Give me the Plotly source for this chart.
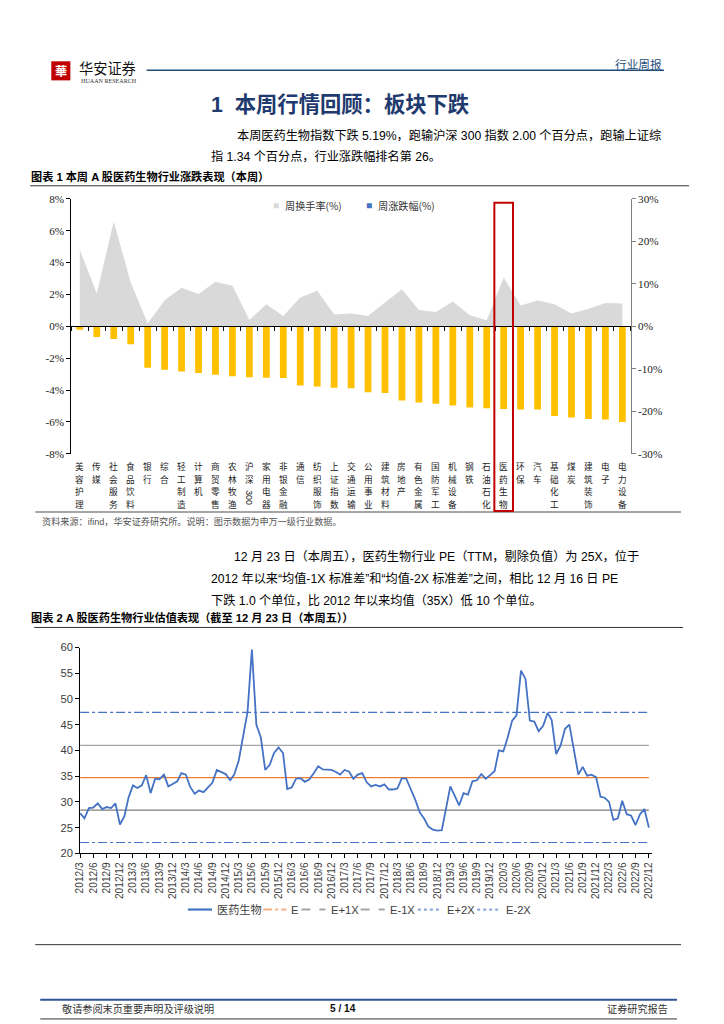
import plotly.graph_objects as go
import pandas as pd

# Layout coordinates below are given in target-image pixels; they are mapped to
# figure paper coordinates (the page is photographed with an 8px margin, scaled 1024/1040).
BODY_M = 8
S = 1024 / 1040
W, H = 724, 1032
def px(x): return (((x - 8) / S) - BODY_M) / W
def py(y): return 1 - (((y - 8) / S) - BODY_M) / H
def fs(size): return size / S

CJK = "Noto Sans CJK SC"
SANS = "Liberation Sans, Noto Sans CJK SC"
SERIF = "Liberation Serif, Noto Sans CJK SC"

# ---------------- Chart 1 data ----------------
categories = ["美容护理", "传媒", "社会服务", "食品饮料", "银行", "综合", "轻工制造", "计算机",
              "商贸零售", "农林牧渔", "沪深300", "家用电器", "非银金融", "通信", "纺织服饰", "上证指数",
              "交通运输", "公用事业", "建筑材料", "房地产", "有色金属", "国防军工", "机械设备", "钢铁",
              "石油石化", "医药生物", "环保", "汽车", "基础化工", "煤炭", "建筑装饰", "电子", "电力设备"]
weekly_change = [-0.21, -0.67, -0.79, -1.12, -2.60, -2.72, -2.83, -2.93, -3.04, -3.14, -3.19,
                 -3.22, -3.24, -3.72, -3.78, -3.85, -3.89, -4.14, -4.18, -4.66, -4.78, -4.86,
                 -4.97, -5.09, -5.14, -5.19, -5.22, -5.22, -5.63, -5.72, -5.82, -5.84, -6.01]
turnover = [4.79, 2.06, 6.58, 2.75, 0.17, 1.64, 2.42, 2.02, 2.79, 2.54, 0.40,
            1.39, 0.65, 1.81, 2.23, 0.74, 0.80, 0.65, 1.49, 2.33, 1.03, 0.90,
            1.55, 0.69, 0.38, 3.07, 1.30, 1.62, 1.39, 0.80, 1.11, 1.47, 1.43]
left_ticks = [8, 6, 4, 2, 0, -2, -4, -6, -8]
right_ticks = [30, 20, 10, 0, -10, -20, -30]
highlight = "医药生物"

# ---------------- Chart 2 data ----------------
pe_values = [
    27.8, 26.8, 28.8, 28.9, 29.7, 28.6, 29.0, 28.8, 29.7, 25.6,
    27.2, 30.8, 33.2, 32.7, 33.2, 35.2, 31.7, 34.5, 34.4, 35.3,
    33.0, 33.5, 34.0, 35.6, 35.3, 32.9, 31.6, 32.2, 31.9, 32.8,
    33.7, 36.2, 35.8, 35.4, 34.2, 35.3, 38.0, 43.0, 47.5, 59.6,
    45.0, 42.5, 36.2, 37.2, 39.5, 40.6, 39.5, 32.5, 32.8, 34.5,
    34.6, 33.9, 34.4, 35.6, 36.9, 36.3, 36.3, 36.2, 35.8, 35.3,
    36.2, 35.9, 34.5, 35.3, 35.6, 33.8, 33.0, 33.3, 33.0, 33.4,
    32.4, 32.4, 32.6, 34.6, 34.5, 32.5, 30.5, 28.0, 26.8, 25.2,
    24.6, 24.4, 24.5, 28.5, 33.0, 31.2, 29.3, 31.7, 31.4, 34.0,
    34.2, 35.4, 34.5, 35.2, 36.0, 40.0, 39.8, 42.5, 45.8, 46.8,
    55.5, 53.9, 45.8, 45.6, 43.7, 44.8, 47.3, 45.9, 39.3, 40.9,
    44.2, 45.0, 40.0, 35.3, 36.8, 35.1, 35.3, 34.8, 31.0, 30.8,
    30.0, 26.5, 26.8, 30.2, 27.6, 27.3, 25.5, 27.6, 28.6, 25.0,
]
pe_dates = pd.date_range("2012-03-31", periods=len(pe_values), freq="ME")
E_mean, E_p1, E_m1, E_p2, E_m2 = 34.7, 41.0, 28.4, 47.4, 22.1
q_dates = pe_dates[::3]
q_labels = [f"{d.year}/{d.month}" for d in q_dates]

fig = go.Figure()

# ---- chart 1 traces ----
fig.add_trace(go.Scatter(x=categories, y=turnover, mode="lines", fill="tozeroy",
                         line=dict(width=0, color="#D9D9D9"), fillcolor="#D9D9D9",
                         xaxis="x", yaxis="y", showlegend=False, hoverinfo="skip"))
fig.add_trace(go.Bar(x=categories, y=weekly_change, marker=dict(color="#FFC000", line=dict(width=0)),
                     width=0.4, xaxis="x", yaxis="y", showlegend=False))
fig.add_trace(go.Scatter(x=[None], y=[None], xaxis="x3", yaxis="y", showlegend=False, hoverinfo="skip"))
fig.add_trace(go.Scatter(x=[None], y=[None], xaxis="x", yaxis="y2", showlegend=False, hoverinfo="skip"))

# ---- chart 2 traces ----
n = len(pe_values)
lines = [
    ("E+2X", [E_p2] * n, "#4472C4", "dashdot", 1.2),
    ("E-2X", [E_m2] * n, "#4472C4", "dashdot", 1.2),
    ("E+1X", [E_p1] * n, "#A5A5A5", "solid", 1.3),
    ("E-1X", [E_m1] * n, "#7F7F7F", "solid", 1.3),
    ("E", [E_mean] * n, "#ED7D31", "solid", 1.3),
]
for name, vals, col, dash, w in lines:
    fig.add_trace(go.Scatter(x=pe_dates, y=vals, mode="lines", name=name,
                             line=dict(color=col, dash=dash, width=w),
                             xaxis="x2", yaxis="y3", showlegend=False))
fig.add_trace(go.Scatter(x=pe_dates, y=pe_values, mode="lines", name="医药生物",
                         line=dict(color="#4472C4", width=1.8),
                         xaxis="x2", yaxis="y3", showlegend=False))

# ---- axes ----
c1_x0, c1_x1 = 73, 630
c1_top, c1_bot = 200, 454
fig.update_layout(
    xaxis=dict(domain=[px(c1_x0), px(c1_x1)], anchor="y", type="category",
               range=[-0.5, len(categories) - 0.5], categoryorder="array", categoryarray=categories,
               showticklabels=False, ticks="", showline=False, showgrid=False),
    xaxis3=dict(domain=[px(c1_x0), px(c1_x1)], overlaying="x", anchor="free",
                position=(py(c1_bot) + py(c1_top)) / 2, type="linear",
                range=[-0.5, len(categories) - 0.5],
                tickmode="array", tickvals=[k + 0.5 for k in range(-1, len(categories))],
                showticklabels=False, ticks="outside", ticklen=4, tickcolor="#000",
                showline=True, linecolor="#000", linewidth=1, showgrid=False, zeroline=False),
    yaxis=dict(domain=[py(c1_bot), py(c1_top)], anchor="x", range=[-8, 8],
               tickmode="array", tickvals=left_ticks, ticktext=[f"{v}%" for v in left_ticks],
               ticks="outside", ticklen=4, tickcolor="#000", showline=True, linecolor="#000",
               linewidth=1.2, showgrid=False, zeroline=False,
               tickfont=dict(family=SERIF, size=fs(11), color="#222")),
    yaxis2=dict(overlaying="y", side="right", anchor="x", range=[-30, 30],
                tickmode="array", tickvals=right_ticks, ticktext=[f"{v}%" for v in right_ticks],
                ticks="outside", ticklen=4, tickcolor="#808080", showline=True,
                linecolor="#808080", linewidth=1, showgrid=False, zeroline=False,
                tickfont=dict(family=SERIF, size=fs(11), color="#222")),
    xaxis2=dict(domain=[px(81.7), px(651)], anchor="y3", type="date",
                range=[pe_dates[0], pe_dates[-1] + pd.Timedelta(days=21)],
                tickmode="array", tickvals=q_dates, ticktext=q_labels, tickangle=-90,
                ticks="outside", ticklen=4, tickcolor="#000", showline=True,
                linecolor="#000", linewidth=1, showgrid=False,
                tickfont=dict(family=SANS, size=fs(10), color="#404040")),
    yaxis3=dict(domain=[py(852), py(647)], anchor="x2", range=[20, 60], dtick=5,
                ticks="outside", ticklen=4, tickcolor="#000", showline=True,
                linecolor="#000", linewidth=1, showgrid=False, zeroline=False,
                tickfont=dict(family=SANS, size=fs(11), color="#404040")),
)

shapes = []
annos = []

def text(x, y, s, size=12, color="#000", family=SANS, anchor="left", bold=False):
    annos.append(dict(x=px(x), y=py(y), xref="paper", yref="paper", text=(f"<b>{s}</b>" if bold else s),
                      showarrow=False, xanchor=anchor, yanchor="middle",
                      font=dict(size=fs(size), color=color, family=family)))

def hline(x0, x1, y, color="#000", width=1, dash="solid"):
    shapes.append(dict(type="line", xref="paper", yref="paper", x0=px(x0), x1=px(x1),
                       y0=py(y), y1=py(y), line=dict(color=color, width=width, dash=dash)))

# ---- chart 1 category labels: vertical (stacked) text under each category ----
LBL_TOP, LBL_STEP, LBL_SIZE = 466.5, 12.5, 8.5
for cat in categories:
    tokens = []
    digits = ""
    for ch in cat:
        if ch.isascii():
            digits += ch
        else:
            tokens.append((ch, False))
    if digits:
        tokens.append((digits, True))
    row = 0.0
    for tok, rotated in tokens:
        if rotated:
            yc = LBL_TOP + LBL_STEP * (row + 0.5)
            annos.append(dict(x=cat, xref="x", y=py(yc), yref="paper", text=tok, textangle=90,
                              showarrow=False, xanchor="center", yanchor="middle", borderpad=0,
                              font=dict(size=fs(LBL_SIZE), color="#222", family=SANS)))
            row += 2
        else:
            annos.append(dict(x=cat, xref="x", y=py(LBL_TOP + LBL_STEP * row), yref="paper",
                              text=tok, showarrow=False, xanchor="center", yanchor="middle",
                              borderpad=0, font=dict(size=fs(LBL_SIZE), color="#222", family=CJK)))
            row += 1

# ---- header ----
shapes.append(dict(type="rect", xref="paper", yref="paper", x0=px(53), x1=px(72), y0=py(82), y1=py(63),
                   fillcolor="#C00000", line=dict(width=0)))
text(62.5, 73, "華", size=12, color="#fff", family=CJK, anchor="center", bold=True)
text(79, 70, "华安证券", size=14, color="#111", family=CJK)
text(81, 83, "HUAAN RESEARCH", size=6, color="#333", family=SERIF)
hline(148, 663, 72, color="#1F4E79", width=1.5)
text(612, 65, "行业周报", size=11.5, color="#1F4E79", family=CJK)

# ---- section heading & paragraph ----
text(340, 107, "1  本周行情回顾：板块下跌", size=21, color="#1F3A6E", family=SANS, anchor="center", bold=True)
text(236, 137, "本周医药生物指数下跌 5.19%，跑输沪深 300 指数 2.00 个百分点，跑输上证综", size=12)
text(210, 158, "指 1.34 个百分点，行业涨跌幅排名第 26。", size=12)

# ---- chart 1 title / frame ----
text(31, 178, "图表 1 本周 A 股医药生物行业涨跌表现（本周）", size=11, bold=True)
hline(32, 688, 187, color="#333", width=1)
hline(37, 680, 512, color="#A6A6A6", width=2)
text(42, 521, "资料来源：ifind，华安证券研究所。说明：图示数据为申万一级行业数据。", size=9, color="#555")

# chart 1 legend (annotations)
text(277, 207, "■", size=10, color="#D9D9D9", family=SANS, anchor="center")
text(284, 207, "周换手率(%)", size=10, color="#333", family=CJK)
text(369, 207, "■", size=10, color="#4472C4", family=SANS, anchor="center")
text(376, 207, "周涨跌幅(%)", size=10, color="#333", family=CJK)

# highlight box around 医药生物
hi = categories.index(highlight)
shapes.append(dict(type="rect", xref="x", yref="paper", x0=hi - 0.55, x1=hi + 0.55,
                   y0=py(511), y1=py(204), line=dict(color="#C00000", width=2)))

# ---- paragraph 2 ----
text(233, 556, "12 月 23 日（本周五），医药生物行业 PE（TTM，剔除负值）为 25X，位于", size=12)
text(210, 578, "2012 年以来“均值-1X 标准差”和“均值-2X 标准差”之间，相比 12 月 16 日 PE", size=12)
text(210, 600, "下跌 1.0 个单位，比 2012 年以来均值（35X）低 10 个单位。", size=12)

text(31, 617, "图表 2 A 股医药生物行业估值表现（截至 12 月 23 日（本周五））", size=11, bold=True)
hline(36, 682, 627, color="#333", width=1)

# chart 2 legend (manual)
leg_y = 908
leg_items = [
    (189, 213, "医药生物", "#4472C4", "solid", 2.2),
    (264, 287, "E", "#F4B183", "dashdot", 2),
    (302, 326, "E+1X", "#A5A5A5", "dash", 2),
    (361, 385, "E-1X", "#A5A5A5", "dash", 2),
    (418, 442, "E+2X", "#8FAADC", "dot", 2.2),
    (477, 501, "E-2X", "#8FAADC", "dot", 2.2),
]
for x0, x1, name, col, dash, w in leg_items:
    hline(x0, x1, leg_y, color=col, width=w, dash=dash)
    text(x1 + 3, leg_y, name, size=11, color="#404040", family=SANS)

hline(37, 680, 943, color="#333", width=1)

# ---- footer ----
hline(42, 676, 998, color="#2F5597", width=2)
text(62, 1007, "敬请参阅末页重要声明及评级说明", size=10, color="#333", family=CJK)
text(343, 1007, "5 / 14", size=10, color="#111", family=SANS, anchor="center", bold=True)
text(669, 1007, "证券研究报告", size=10, color="#333", family=CJK, anchor="right")
hline(42, 676, 1017, color="#333", width=1)

fig.update_layout(
    width=W, height=H, autosize=False,
    margin=dict(l=0, r=0, t=0, b=0),
    paper_bgcolor="#fff", plot_bgcolor="rgba(0,0,0,0)",
    shapes=shapes, annotations=annos, showlegend=False, bargap=0.6,
    font=dict(family=SANS),
)

fig.write_html("out.html", config={"displayModeBar": False})
